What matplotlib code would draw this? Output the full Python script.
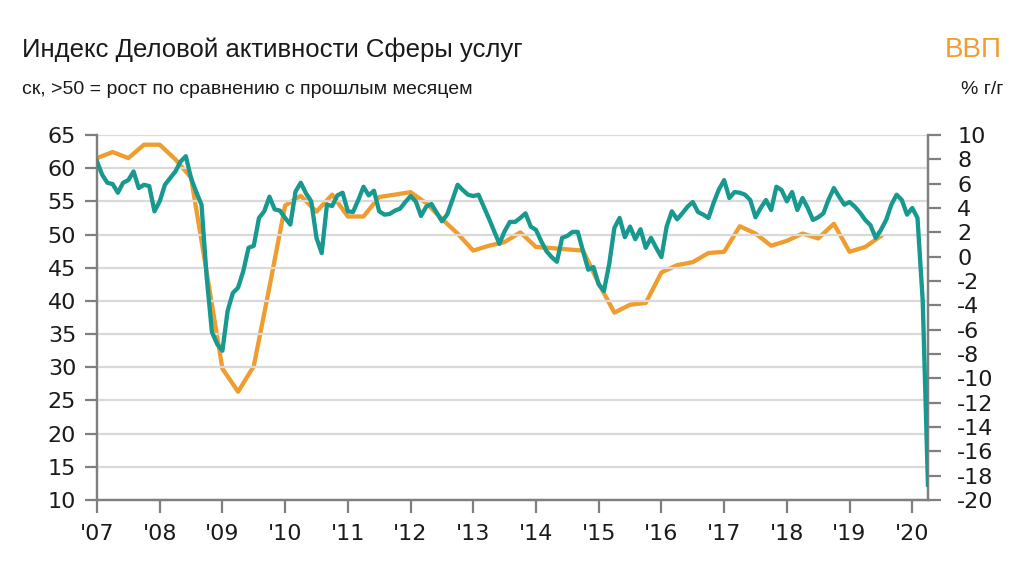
import numpy as np
import matplotlib
matplotlib.use('Agg')
import matplotlib.pyplot as plt

# services PMI, monthly, Jan 2007 - Apr 2020
pmi_2007 = [61.0, 59.0, 57.8, 57.6, 56.3, 57.8, 58.2, 59.5, 57.0, 57.5, 57.3, 53.5]
pmi_2008 = [55.0, 57.5, 58.5, 59.5, 61.0, 61.8, 58.5, 56.4, 54.5, 43.5, 35.3, 33.5]
pmi_2009 = [32.5, 38.5, 41.2, 42.0, 44.5, 48.0, 48.3, 52.5, 53.5, 55.7, 53.8, 53.6]
pmi_2010 = [52.5, 51.5, 56.5, 57.8, 56.2, 55.0, 49.5, 47.2, 54.5, 54.3, 55.9, 56.3]
pmi_2011 = [53.5, 53.4, 55.2, 57.2, 55.9, 56.6, 53.5, 53.0, 53.1, 53.6, 53.9, 54.9]
pmi_2012 = [55.8, 55.0, 52.8, 54.2, 54.6, 53.3, 52.0, 53.0, 55.2, 57.5, 56.7, 56.0]
pmi_2013 = [55.8, 56.0, 54.2, 52.4, 50.5, 48.6, 50.5, 51.9, 51.9, 52.5, 53.2, 51.2]
pmi_2014 = [50.7, 49.0, 47.5, 46.6, 45.9, 49.5, 49.8, 50.4, 50.4, 47.5, 44.7, 45.1]
pmi_2015 = [42.5, 41.5, 45.5, 51.0, 52.5, 49.6, 51.2, 49.3, 50.8, 48.0, 49.5, 48.0]
pmi_2016 = [46.6, 51.2, 53.5, 52.3, 53.2, 54.2, 54.9, 53.4, 53.0, 52.5, 54.8, 56.8]
pmi_2017 = [58.2, 55.5, 56.4, 56.3, 56.0, 55.2, 52.6, 54.0, 55.2, 53.7, 57.2, 56.7]
pmi_2018 = [55.0, 56.4, 53.7, 55.5, 54.0, 52.2, 52.6, 53.2, 55.3, 57.0, 55.7, 54.5]
pmi_2019 = [54.9, 54.2, 53.3, 52.2, 51.4, 49.5, 50.7, 52.2, 54.5, 56.0, 55.2, 53.0]
pmi_2020 = [54.0, 52.5, 40.0, 12.3]

# GDP, % y/y, quarterly, 2007Q1 - 2019Q3
gdp_q = [8.1, 8.6, 8.1, 9.2,
         9.2, 8.0, 6.5, -1.3,
         -9.2, -11.1, -9.0, -2.5,
         4.2, 5.0, 3.7, 5.1,
         3.3, 3.3, 4.9, 5.1,
         5.3, 4.4, 3.1, 1.9,
         0.5, 0.9, 1.2, 2.0,
         0.8, 0.7, 0.6, 0.5,
         -2.2, -4.6, -3.95, -3.8,
         -1.3, -0.7, -0.45, 0.3,
         0.4, 2.5, 1.9, 0.9,
         1.3, 1.9, 1.5, 2.7,
         0.4, 0.8, 1.7]

years = list(range(2007, 2021))
year_labels = ["'" + str(y)[2:] for y in years]

pmi = (pmi_2007 + pmi_2008 + pmi_2009 + pmi_2010 + pmi_2011 + pmi_2012 + pmi_2013
       + pmi_2014 + pmi_2015 + pmi_2016 + pmi_2017 + pmi_2018 + pmi_2019 + pmi_2020)
pmi_x = 2007 + np.arange(len(pmi)) / 12.0
gdp_x = 2007 + np.arange(len(gdp_q)) / 4.0

teal = '#17998f'
orange = '#ef9d2f'
gray = '#7f7f7f'

plt.rcParams['axes.unicode_minus'] = False
plt.rcParams['font.family'] = ['DejaVu Sans']

fig = plt.figure(figsize=(10.24, 5.71), dpi=100)
ax = fig.add_axes([0.0947, 0.1243, 0.8115, 0.6393])
ax2 = ax.twinx()

ax.set_ylim(10, 65)
ax.set_yticks(range(10, 70, 5))
ax2.set_ylim(-20, 10)
ax2.set_yticks(range(-20, 12, 2))
ax.set_xlim(2007, 2020.25)
ax.set_xticks(years)
ax.set_xticklabels(year_labels)

ax.grid(axis='y', color='#d9d9d9', linewidth=1.6)
ax.set_axisbelow(True)

ax2.plot(gdp_x, gdp_q, color=orange, linewidth=3.1, solid_joinstyle='round', zorder=2)
ax.plot(pmi_x, pmi, color=teal, linewidth=3.1, solid_joinstyle='round', zorder=3)
# teal above orange
ax.set_zorder(ax2.get_zorder() + 1)
ax.patch.set_visible(False)

for a in (ax, ax2):
    a.spines['top'].set_visible(False)
    for s in ('left', 'right', 'bottom'):
        a.spines[s].set_color(gray)
        a.spines[s].set_linewidth(1.6)
ax.tick_params(axis='y', direction='out', length=9, width=1.6, color=gray, labelsize=16, pad=6, labelcolor='#1a1a1a')
ax.tick_params(axis='x', direction='out', length=9, width=1.6, color=gray, labelsize=16, pad=8, labelcolor='#1a1a1a')
ax2.tick_params(axis='y', direction='out', length=9, width=1.6, color=gray, labelsize=16, pad=12, labelcolor='#1a1a1a')

title_font = ['Liberation Sans Narrow', 'Liberation Sans', 'DejaVu Sans']
fig.text(0.021, 1 - 50 / 571, 'Индекс Деловой активности Сферы услуг', fontsize=18.5,
         family=title_font, va='center', ha='left', color='#1a1a1a')
fig.text(0.021, 1 - 90 / 571, 'ск, >50 = рост по сравнению с прошлым месяцем', fontsize=14,
         family=title_font, va='center', ha='left', color='#1a1a1a')
fig.text(0.978, 1 - 50 / 571, 'ВВП', fontsize=20, family=title_font, va='center', ha='right', color=orange)
fig.text(0.98, 1 - 90 / 571, '% г/г', fontsize=14, family=title_font, va='center', ha='right', color='#1a1a1a')

fig.savefig('out.png', dpi=100, facecolor='white')
